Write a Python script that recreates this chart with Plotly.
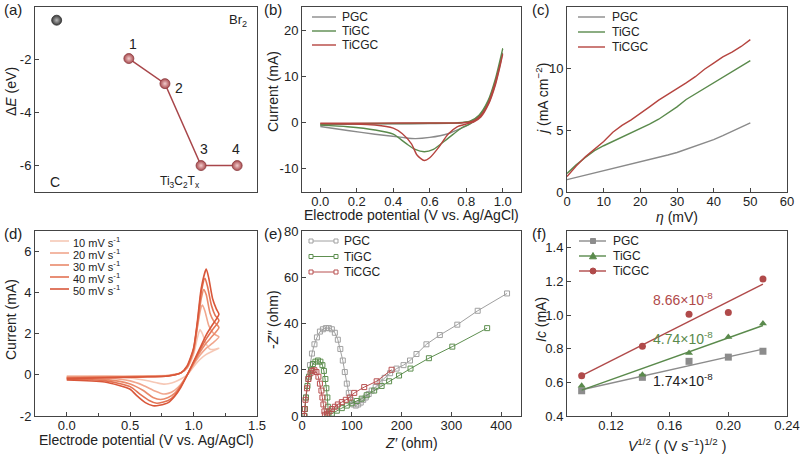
import plotly.graph_objects as go
import numpy as np

W, H = 800, 454
FONT = "Liberation Sans, Arial, sans-serif"
C_PGC, C_TIGC, C_TICGC = "#8a8a8a", "#5a8a4c", "#b5443f"

# ---------- (a) adsorption energies ----------
c_x, c_E = [1], [-0.5]
site_x = [3, 4, 5, 6]
site_E = [-1.95, -2.9, -6.0, -6.0]
site_lbl = ["1", "2", "3", "4"]

# ---------- (b) CV of three electrodes ----------
b_pgc_x = [0, 0.2, 0.4, 0.6, 0.75, 0.82, 0.87, 0.92, 0.96, 1.0,
           0.96, 0.92, 0.87, 0.82, 0.78, 0.7, 0.6, 0.52, 0.45, 0.3, 0.15, 0]
b_pgc_y = [-0.5, -0.3, -0.25, -0.2, -0.1, 0.2, 1.5, 4.5, 9.0, 15.0,
           8.5, 4.0, 1.2, -0.3, -1.1, -2.4, -3.2, -3.45, -3.2, -2.5, -1.7, -0.85]
b_tigc_x = [0, 0.3, 0.6, 0.75, 0.82, 0.87, 0.92, 0.96, 1.0,
            0.96, 0.92, 0.87, 0.82, 0.78, 0.7, 0.62, 0.57, 0.52, 0.47, 0.4, 0.3, 0.15, 0]
b_tigc_y = [-0.3, -0.2, -0.15, -0.05, 0.3, 1.6, 4.8, 9.5, 16.0,
            8.8, 4.3, 1.2, -0.3, -1.0, -3.4, -5.8, -6.3, -5.8, -4.5, -2.5, -1.6, -0.9, -0.55]
b_ticgc_x = [0, 0.3, 0.6, 0.78, 0.84, 0.88, 0.92, 0.96, 1.0,
             0.96, 0.92, 0.88, 0.84, 0.8, 0.75, 0.7, 0.65, 0.6, 0.57, 0.53, 0.5, 0.45, 0.4, 0.3, 0.15, 0]
b_ticgc_y = [-0.1, -0.1, -0.08, -0.02, 0.4, 1.6, 4.2, 8.8, 14.8,
             8.2, 3.8, 1.2, 0.1, -0.3, -0.9, -2.5, -5.3, -7.6, -8.2, -7.0, -4.6, -2.4, -1.2, -0.5, -0.3, -0.2]

# ---------- (c) polarization ----------
c_eta = [0, 2.5, 5, 7.5, 10, 12.5, 15, 17.5, 20, 22.5, 25, 27.5, 30, 32.5, 35, 37.5, 40, 42.5, 45, 47.5, 50]
c_pgc = [1.0, 1.18, 1.35, 1.52, 1.7, 1.87, 2.05, 2.25, 2.45, 2.62, 2.8, 3.0, 3.2, 3.45, 3.7, 3.98, 4.25, 4.57, 4.9, 5.25, 5.6]
c_tigc = [1.5, 2.2, 2.8, 3.35, 3.75, 4.1, 4.4, 4.75, 5.1, 5.5, 5.9, 6.4, 6.9, 7.5, 7.95, 8.4, 8.85, 9.3, 9.7, 10.15, 10.65]
c_ticgc = [1.25, 2.1, 2.85, 3.5, 4.1, 4.85, 5.4, 5.85, 6.35, 6.9, 7.45, 7.9, 8.35, 8.85, 9.35, 9.95, 10.45, 10.95, 11.35, 11.8, 12.35]

# ---------- (d) CV at scan rates ----------
d_labels = ["10 mV s<sup>-1</sup>", "20 mV s<sup>-1</sup>", "30 mV s<sup>-1</sup>",
            "40 mV s<sup>-1</sup>", "50 mV s<sup>-1</sup>"]
d_colors = ["#f6c8b6", "#f1a78e", "#e98a6b", "#e27152", "#d9573a"]
d10_x = [0, 0.3, 0.6, 0.8, 0.9, 0.95, 1.0, 1.03, 1.05, 1.07, 1.1, 1.13, 1.17, 1.2,
         1.15, 1.1, 1.05, 1.0, 0.95, 0.9, 0.85, 0.8, 0.77, 0.72, 0.65, 0.5, 0.3, 0]
d10_y = [-0.05, -0.05, -0.05, -0.02, 0.1, 0.35, 1.0, 1.8, 2.2, 2.0, 1.5, 1.25, 1.25, 1.3,
         1.15, 1.0, 0.75, 0.4, 0.0, -0.2, -0.35, -0.43, -0.45, -0.4, -0.3, -0.15, -0.08, -0.07]
d20_x = [0, 0.3, 0.6, 0.8, 0.9, 0.95, 1.0, 1.03, 1.06, 1.07, 1.09, 1.12, 1.16, 1.2,
         1.15, 1.1, 1.05, 1.0, 0.95, 0.9, 0.85, 0.8, 0.76, 0.7, 0.6, 0.5, 0.3, 0]
d20_y = [-0.1, -0.08, -0.07, -0.03, 0.1, 0.35, 1.1, 2.3, 3.3, 3.4, 3.1, 2.4, 2.0, 1.85,
         1.55, 1.3, 0.95, 0.5, 0.0, -0.45, -0.75, -0.9, -0.93, -0.8, -0.5, -0.29, -0.15, -0.12]
d30_x = [0, 0.3, 0.6, 0.8, 0.9, 0.95, 1.0, 1.03, 1.06, 1.08, 1.1, 1.13, 1.16, 1.2,
         1.15, 1.1, 1.05, 1.0, 0.95, 0.9, 0.85, 0.8, 0.74, 0.68, 0.6, 0.5, 0.3, 0]
d30_y = [-0.12, -0.1, -0.08, -0.04, 0.1, 0.4, 1.2, 2.4, 3.7, 4.15, 3.9, 3.0, 2.6, 2.3,
         1.9, 1.55, 1.1, 0.55, 0.0, -0.5, -0.9, -1.1, -1.2, -1.1, -0.75, -0.44, -0.22, -0.15]
d40_x = [0, 0.3, 0.6, 0.8, 0.9, 0.95, 1.0, 1.03, 1.06, 1.09, 1.11, 1.14, 1.17, 1.2,
         1.15, 1.1, 1.05, 1.0, 0.95, 0.9, 0.85, 0.8, 0.71, 0.65, 0.58, 0.5, 0.3, 0]
d40_y = [-0.15, -0.12, -0.09, -0.05, 0.1, 0.4, 1.25, 2.5, 4.0, 4.7, 4.3, 3.4, 2.9, 2.65,
         2.2, 1.75, 1.2, 0.6, 0.0, -0.55, -1.0, -1.25, -1.38, -1.25, -0.95, -0.57, -0.28, -0.2]
d50_x = [0, 0.3, 0.6, 0.8, 0.9, 0.95, 1.0, 1.03, 1.06, 1.1, 1.12, 1.15, 1.18, 1.2,
         1.15, 1.1, 1.05, 1.0, 0.95, 0.9, 0.85, 0.8, 0.73, 0.68, 0.62, 0.55, 0.5, 0.3, 0]
d50_y = [-0.18, -0.14, -0.1, -0.05, 0.1, 0.45, 1.3, 2.6, 4.2, 5.15, 4.7, 3.7, 3.2, 2.95,
         2.45, 1.95, 1.3, 0.65, 0.0, -0.6, -1.05, -1.35, -1.48, -1.5, -1.35, -1.0, -0.7, -0.35, -0.25]
d_xs = [d10_x, d20_x, d30_x, d40_x, d50_x]
d_ys = [d10_y, d20_y, d30_y, d40_y, d50_y]

# ---------- (e) Nyquist ----------
e_pgc_x = [5, 6, 8, 12, 16, 20, 25, 30, 36, 42, 48, 54, 60, 66, 72, 77, 82, 86, 90, 94, 98, 103,
           108, 113, 118, 123, 128, 134, 140, 148, 156, 166, 177, 190, 204, 217, 230, 250, 277, 312, 353, 412]
e_pgc_y = [0, 3, 8, 16, 22, 27, 31, 34, 36.5, 37.5, 38, 38, 37.5, 36, 33, 29, 24, 19, 14, 10, 7, 5,
           4.5, 5, 5.8, 7, 8, 9.5, 11, 12.5, 14.5, 16.5, 18.5, 20.5, 22, 24, 26.8, 31, 35, 39.5, 45.5, 53]
e_tigc_x = [5, 6, 8, 11, 14, 18, 22, 27, 32, 37, 41, 44, 47, 49, 51, 52, 53,
            60, 70, 80, 90, 100, 110, 120, 130, 145, 160, 175, 195, 218, 255, 302, 372]
e_tigc_y = [0, 3, 8, 13, 17, 20, 22.5, 23.5, 24, 23.5, 22, 19.5, 16, 12, 8, 4, 1,
            1, 2.3, 3.4, 4.5, 5.5, 6.5, 7.5, 9, 11, 13, 15, 17.5, 20.5, 25, 30, 38]
e_ticgc_x = [4, 5, 7, 10, 13, 17, 21, 25, 29, 33, 36, 39, 41, 43, 45, 46,
             50, 55, 60, 66, 72, 80, 88, 96, 105, 125, 150, 180]
e_ticgc_y = [0, 3, 7, 12, 16, 18.5, 19.5, 19.8, 19, 17, 14, 11, 8, 5, 2, 0.5,
             1, 2, 3, 4, 5, 6, 7, 8, 10, 12.5, 15, 20]

# ---------- (f) Ic vs sqrt(v) ----------
f_v = [0.1, 0.1414, 0.1732, 0.2, 0.2236]
f_pgc = [0.55, 0.63, 0.725, 0.75, 0.785]
f_tigc = [0.58, 0.645, 0.775, 0.87, 0.95]
f_ticgc = [0.64, 0.815, 1.005, 1.015, 1.215]
f_slopes = ["1.74×10<sup>-8</sup>", "4.74×10<sup>-8</sup>", "8.66×10<sup>-8</sup>"]

def px(x):
    return x / W

def py(y):
    return 1 - y / H

fig = go.Figure()

# (a)
fig.add_trace(go.Scatter(x=site_x, y=site_E, mode="lines+markers", xaxis="x", yaxis="y",
                         line=dict(color="#a8464a", width=1.5),
                         marker=dict(size=10, color="#a84a4e", line=dict(color="#8a3a3e", width=0.8),
                                     gradient=dict(type="radial", color="#f2cccc")),
                         showlegend=False))
fig.add_trace(go.Scatter(x=c_x, y=c_E, mode="markers", xaxis="x", yaxis="y",
                         marker=dict(size=10, color="#3a3a3a", line=dict(color="#333", width=0.8),
                                     gradient=dict(type="radial", color="#b8b8b8")),
                         showlegend=False))

# (b)
for xs, ys, col in [(b_pgc_x, b_pgc_y, C_PGC), (b_tigc_x, b_tigc_y, C_TIGC), (b_ticgc_x, b_ticgc_y, C_TICGC)]:
    fig.add_trace(go.Scatter(x=xs, y=ys, mode="lines", xaxis="x2", yaxis="y2",
                             line=dict(color=col, width=1.4, shape="spline", smoothing=0.7), showlegend=False))

# (c)
for ys, col in [(c_pgc, C_PGC), (c_tigc, C_TIGC), (c_ticgc, C_TICGC)]:
    fig.add_trace(go.Scatter(x=c_eta, y=ys, mode="lines", xaxis="x3", yaxis="y3",
                             line=dict(color=col, width=1.4), showlegend=False))

# (d)
for xs, ys, col in zip(d_xs, d_ys, d_colors):
    fig.add_trace(go.Scatter(x=xs, y=ys, mode="lines", xaxis="x4", yaxis="y4",
                             line=dict(color=col, width=1.6, shape="spline", smoothing=0.6), showlegend=False))

# (e)
E_COLS = ["#a0a0a0", "#5e8f50", "#b85050"]
for xs, ys, col in [(e_pgc_x, e_pgc_y, E_COLS[0]), (e_tigc_x, e_tigc_y, E_COLS[1]), (e_ticgc_x, e_ticgc_y, E_COLS[2])]:
    fig.add_trace(go.Scatter(x=xs, y=ys, mode="lines+markers", xaxis="x5", yaxis="y5",
                             line=dict(color=col, width=1),
                             marker=dict(symbol="square-open", size=5, color=col, line=dict(width=1)),
                             showlegend=False))

# (f)
F_COLS = ["#8c8c8c", "#5a8a4c", "#b04a4a"]
F_SYM = ["square", "triangle-up", "circle"]
fx = np.array([min(f_v), max(f_v)])
for ys, col, sym in zip([f_pgc, f_tigc, f_ticgc], F_COLS, F_SYM):
    k, b0 = np.polyfit(f_v, ys, 1)
    fig.add_trace(go.Scatter(x=fx, y=k * fx + b0, mode="lines", xaxis="x6", yaxis="y6",
                             line=dict(color=col, width=1.4), showlegend=False))
    fig.add_trace(go.Scatter(x=f_v, y=ys, mode="markers", xaxis="x6", yaxis="y6",
                             marker=dict(symbol=sym, size=7, color=col), showlegend=False))

AX = dict(showline=True, mirror=True, linecolor="#444", linewidth=1, ticks="inside", ticklen=4,
          tickcolor="#444", showgrid=False, zeroline=False, automargin=False,
          tickfont=dict(size=13, color="#222", family=FONT))
AXX = dict(AX, ticklabelstandoff=-3)

top = [py(192), py(7)]
bot = [py(416), py(231)]
colx = [[px(35), px(257)], [px(302), px(521)], [px(567), px(787)]]

layout = dict(
    width=W, height=H, margin=dict(l=0, r=0, t=0, b=0, pad=0), plot_bgcolor="white", paper_bgcolor="white",
    font=dict(family=FONT, size=13, color="#222"), showlegend=False,
    xaxis=dict(AXX, domain=colx[0], anchor="y", range=[0.4, 6.55], showticklabels=False, ticks=""),
    yaxis=dict(AX, domain=top, anchor="x", range=[-7, 0], tickvals=[0, -2, -4, -6], ticktext=["0", "-2", "-4", "-6"]),
    xaxis2=dict(AXX, domain=colx[1], anchor="y2", range=[-0.1, 1.1], tickvals=[0, 0.2, 0.4, 0.6, 0.8, 1.0], tickformat=".1f"),
    yaxis2=dict(AX, domain=top, anchor="x2", range=[-15, 25], tickvals=[-10, 0, 10, 20], ticktext=["-10", "0", "10", "20"]),
    xaxis3=dict(AXX, domain=colx[2], anchor="y3", range=[0, 60], dtick=10),
    yaxis3=dict(AX, domain=top, anchor="x3", range=[0, 15], dtick=5),
    xaxis4=dict(AXX, domain=colx[0], anchor="y4", range=[-0.25, 1.5], tickvals=[0, 0.5, 1.0, 1.5], tickformat=".1f",
                minor=dict(tickvals=[0.25, 0.75, 1.25], ticks="inside", ticklen=3, tickcolor="#444")),
    yaxis4=dict(AX, domain=bot, anchor="x4", range=[-2, 7], tickvals=[-2, 0, 2, 4, 6], ticktext=["-2", "0", "2", "4", "6"]),
    xaxis5=dict(AXX, domain=colx[1], anchor="y5", range=[0, 440], dtick=100),
    yaxis5=dict(AX, domain=bot, anchor="x5", range=[0, 80], dtick=20),
    xaxis6=dict(AXX, domain=colx[2], anchor="y6", range=[0.09, 0.24], tickvals=[0.12, 0.16, 0.20, 0.24], tickformat=".2f"),
    yaxis6=dict(AX, domain=bot, anchor="x6", range=[0.4, 1.5], tickvals=[0.4, 0.6, 0.8, 1.0, 1.2, 1.4], tickformat=".1f"),
)
fig.update_layout(**layout)

ann = []
shapes = []

def text(x, y, t, size=14, xanchor="center", color="#222", angle=0):
    ann.append(dict(xref="paper", yref="paper", x=px(x), y=py(y), text=t, showarrow=False,
                    xanchor=xanchor, yanchor="middle", textangle=angle,
                    font=dict(size=size, color=color, family=FONT)))

# panel labels
for lbl, x, y in [("(a)", 2, 9), ("(b)", 262, 9), ("(c)", 530, 9), ("(d)", 2, 233), ("(e)", 262, 233), ("(f)", 530, 233)]:
    text(x, y, lbl, size=15, xanchor="left")

# axis titles
text(11, 92, "Δ<i>E</i> (eV)", angle=-90)
text(273, 92, "Current (mA)", angle=-90)
text(542, 99, "<i>j</i> (mA cm<sup>−2</sup>)", angle=-90)
text(11, 320, "Current (mA)", angle=-90)
text(273, 320, "-<i>Z″</i> (ohm)", angle=-90)
text(541, 320, "<i>Ic</i> (mA)", angle=-90)
text(411, 215, "Electrode potential (V vs. Ag/AgCl)")
text(677, 217, "<i>η</i> (mV)")
text(146, 440, "Electrode potential (V vs. Ag/AgCl)")
text(411, 443, "<i>Z′</i> (ohm)")
text(677, 445, "<i>V</i><sup>1/2</sup> ( (V s<sup>−1</sup>)<sup>1/2</sup> )")

# (a) labels
for xv, ev, lbl, dx, dy in zip(site_x, site_E, site_lbl, [4, 14, 3, -1], [15, -4, 17, 17]):
    ann.append(dict(xref="x", yref="y", x=xv, y=ev, text=lbl, showarrow=False, xshift=dx, yshift=dy,
                    font=dict(size=14, color="#222", family=FONT)))
text(238, 20, "Br<sub>2</sub>", size=13)
text(55, 182, "C", size=14)
text(180, 182, "Ti<sub>3</sub>C<sub>2</sub>T<sub>x</sub>", size=12)

# (f) slope labels
text(683, 299, f_slopes[2], size=14, color=F_COLS[2])
text(683, 338, f_slopes[1], size=14, color=F_COLS[1])
text(683, 380, f_slopes[0], size=14, color="#222")

def lline(x0, x1, y, col, w=1.4):
    shapes.append(dict(type="line", xref="paper", yref="paper", x0=px(x0), x1=px(x1), y0=py(y), y1=py(y),
                       line=dict(color=col, width=w)))

def lsquare(cx, cy, s, col, filled):
    shapes.append(dict(type="rect", xref="paper", yref="paper", x0=px(cx - s / 2), x1=px(cx + s / 2),
                       y0=py(cy + s / 2), y1=py(cy - s / 2), line=dict(color=col, width=1),
                       fillcolor=col if filled else "white"))

def lcircle(cx, cy, r, col):
    shapes.append(dict(type="circle", xref="paper", yref="paper", x0=px(cx - r), x1=px(cx + r),
                       y0=py(cy + r), y1=py(cy - r), line=dict(color=col, width=1), fillcolor=col))

def ltri(cx, cy, r, col):
    p = "M %f %f L %f %f L %f %f Z" % (px(cx), py(cy - r), px(cx - r), py(cy + r * 0.8), px(cx + r), py(cy + r * 0.8))
    shapes.append(dict(type="path", xref="paper", yref="paper", path=p, line=dict(color=col, width=1), fillcolor=col))

names = ["PGC", "TiGC", "TiCGC"]
# (b) legend
for i, (n, col) in enumerate(zip(names, [C_PGC, C_TIGC, C_TICGC])):
    y = 17 + 14 * i
    lline(312, 336, y, col)
    text(340, y, n, size=12, xanchor="left")
# (c) legend
for i, (n, col) in enumerate(zip(names, [C_PGC, C_TIGC, C_TICGC])):
    y = 17 + 15 * i
    lline(578, 605, y, col)
    text(610, y, n, size=12, xanchor="left")
# (d) legend
for i, (n, col) in enumerate(zip(d_labels, d_colors)):
    y = 241 + 12 * i
    lline(50, 69, y, col, 1.6)
    text(71, y + 1, n, size=11, xanchor="left")
# (e) legend
for i, (n, col) in enumerate(zip(names, E_COLS)):
    y = 241 + 15.5 * i
    lline(311, 336, y, col, 1)
    lsquare(311, y, 4, col, False)
    lsquare(336, y, 4, col, False)
    text(342, y, n, size=12, xanchor="left")
# (f) legend
for i, (n, col) in enumerate(zip(names, F_COLS)):
    y = 241 + 15 * i
    lline(579, 606, y, col)
    if i == 0:
        lsquare(593, y, 5, col, True)
    elif i == 1:
        ltri(593, y, 3.5, col)
    else:
        lcircle(593, y, 3, col)
    text(611, y, n, size=12, xanchor="left")

fig.update_layout(annotations=ann, shapes=shapes)
fig.write_html("out.html", config={"displayModeBar": False},
               post_script="document.body.style.margin='0px';")
